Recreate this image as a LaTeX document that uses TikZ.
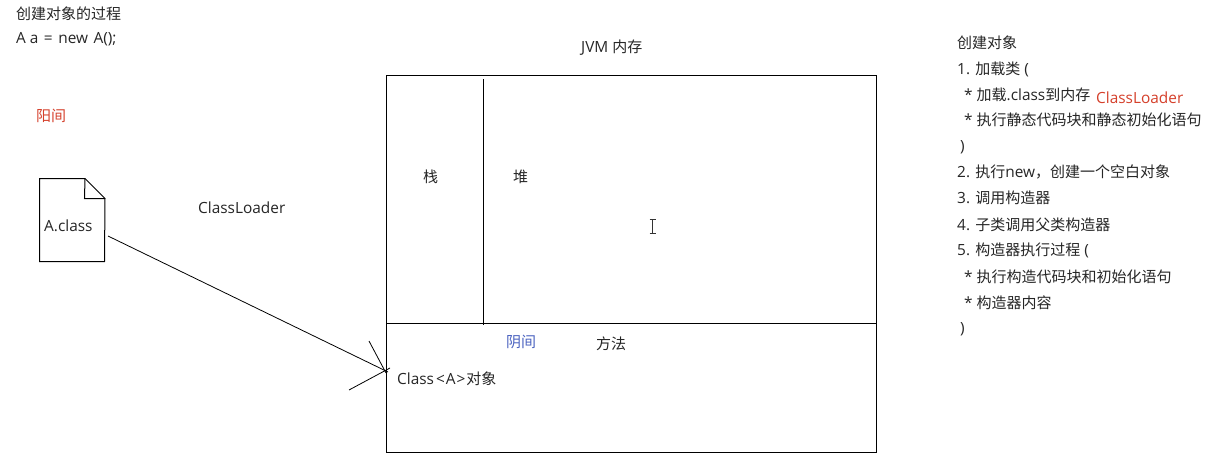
\documentclass[tikz,border=0pt]{standalone}
\usepackage{fontspec}
\setmainfont{Open Sans}
\newfontfamily\cjk{Noto Sans CJK SC}
\newcommand{\zh}[1]{{\cjk\fontsize{15}{16}\selectfont #1}}
\definecolor{labelred}{HTML}{D5402B}
\definecolor{labelblue}{HTML}{4A62C0}
\begin{document}
\begin{tikzpicture}[x=1pt,y=-1pt,
  lbl/.style={anchor=west,inner sep=0pt,font=\fontsize{15.4}{16}\selectfont,text=black!85},
  red/.style={lbl,text=labelred},
  blue/.style={lbl,text=labelblue},
  edge/.style={line width=1pt,black},
  thin line/.style={line width=0.8pt,black}]
\useasboundingbox (0,0) rectangle (1207,455);
\fill[white] (0,0) rectangle (1207,455);
% JVM box
\node[draw,edge,inner sep=0pt,outer sep=0pt,minimum width=490pt,minimum height=377pt,anchor=north west] (jvm) at (386.5,75.5) {};
\coordinate (stacktop) at (483.5,79);
\coordinate (stackbot) at (483.5,325);
\coordinate (divl) at (386.5,323.5);
\coordinate (divr) at (876.5,323.5);
\draw[edge] (stacktop) -- (stackbot);
\draw[edge] (divl) -- (divr);
% file icon
\coordinate (f1) at (39.5,178.5);
\coordinate (f2) at (85,178.5);
\coordinate (f3) at (105,198.5);
\coordinate (f4) at (104.5,261.5);
\coordinate (f5) at (39.5,261.5);
\coordinate (f6) at (84.5,198.5);
\draw[edge] (f1) -- (f2) -- (f3) -- (f4) -- (f5) -- cycle;
\draw[edge] (f2) -- (f6) -- (f3);
% arrow
\coordinate (as) at (108,236);
\coordinate (ae) at (388,372);
\coordinate (h1) at (369,341);
\coordinate (h1e) at (386,373);
\coordinate (h2) at (349,390);
\coordinate (h2e) at (390,368);
\draw[thin line] (as) -- (ae);
\draw[thin line] (h1) -- (h1e);
\draw[thin line] (h2) -- (h2e);
% cursor
\coordinate (c1) at (652.5,219.5);
\coordinate (c2) at (652.5,233.5);
\draw[line width=1pt,black!80] (c1) -- (c2);
\draw[line width=1pt,black!80] ([xshift=-3pt]c1) -- ([xshift=3pt]c1);
\draw[line width=1pt,black!80] ([xshift=-3pt]c2) -- ([xshift=3pt]c2);
% texts
\node[lbl] (t1) at (16,14) {\zh{创建对象的过程}};
\node[lbl] (t2) at (16,39) {A a\kern1.5pt{} =\kern1.5pt{} new\kern1.5pt{} A();};
\node[red] (t3) at (36,116) {\zh{阳间}};
\node[lbl] (t4) at (44,226) {A.class};
\node[lbl] (t5) at (198,208) {ClassLoader};
\node[lbl] (t6) at (581,48) {JVM\kern4pt\zh{内存}};
\node[lbl] (t7) at (423,177) {\zh{栈}};
\node[lbl] (t8) at (513,177) {\zh{堆}};
\node[blue] (t9) at (506,342) {\zh{阴间}};
\node[lbl] (t10) at (596,344) {\zh{方法}};
\node[lbl] (t11) at (397,379) {Class\kern2pt<\kern1pt{}A\kern1pt>\kern1pt\zh{对象}};
\node[lbl] (r1) at (957,43) {\zh{创建对象}};
\node[lbl] (r2) at (957,69) {1. \zh{加载类} (};
\node[lbl] (r3) at (964,95) {* \zh{加载}.class\zh{到内存}};
\node[red] (r4) at (1096,98) {ClassLoader};
\node[lbl] (r5) at (964,120) {* \zh{执行静态代码块和静态初始化语句}};
\node[lbl] (r6) at (960,147) {)};
\node[lbl] (r7) at (957,172) {2. \zh{执行}new\zh{，创建一个空白对象}};
\node[lbl] (r8) at (957,198) {3. \zh{调用构造器}};
\node[lbl] (r9) at (957,225) {4. \zh{子类调用父类构造器}};
\node[lbl] (r10) at (957,250) {5. \zh{构造器执行过程} (};
\node[lbl] (r11) at (964,277) {* \zh{执行构造代码块和初始化语句}};
\node[lbl] (r12) at (964,303) {* \zh{构造器内容}};
\node[lbl] (r13) at (960,329) {)};
\end{tikzpicture}
\end{document}
